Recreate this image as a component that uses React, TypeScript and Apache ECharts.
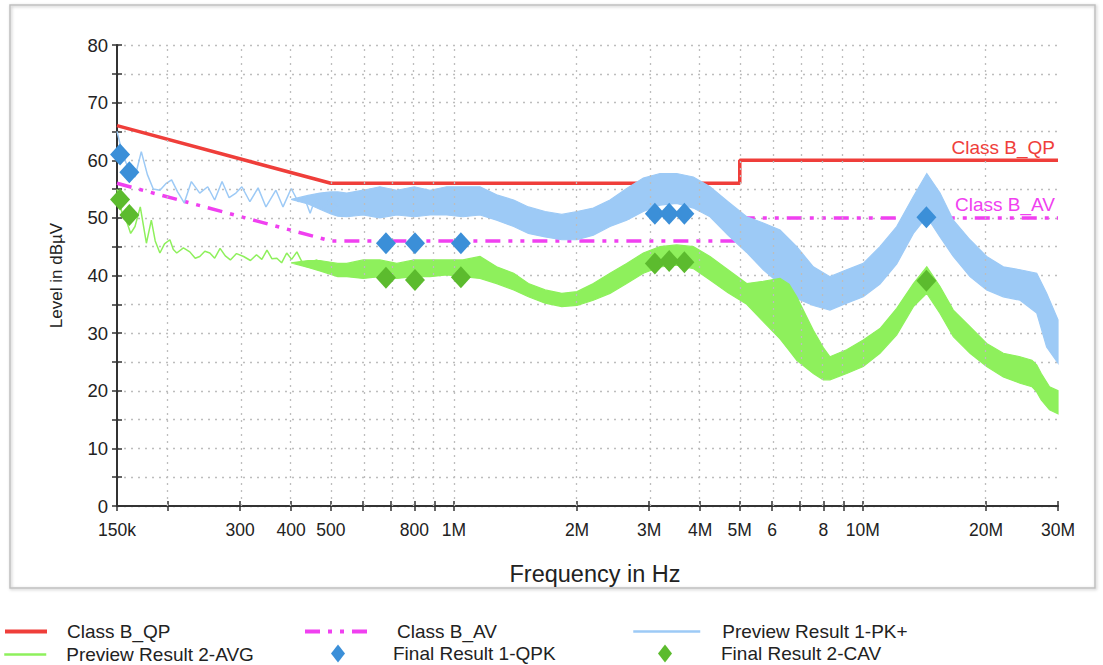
import React, { useEffect, useRef } from "react";
import * as echarts from "echarts";

// ---------- data (frequencies in MHz, levels in dBµV) ----------
const tickFreqs = [0.15, 0.2, 0.3, 0.4, 0.5, 0.6, 0.7, 0.8, 0.9, 1, 2, 3, 4, 5, 6, 7, 8, 9, 10, 20, 30];
const gridFreqs = [0.2, 0.3, 0.4, 0.5, 0.6, 0.7, 0.8, 0.9, 1, 2, 3, 4, 5, 6, 7, 8, 9, 10, 20, 30];
const labelFreqs = [0.15, 0.3, 0.4, 0.5, 0.8, 1, 2, 3, 4, 5, 6, 8, 10, 20, 30];
const labelTexts = ["150k", "300", "400", "500", "800", "1M", "2M", "3M", "4M", "5M", "6", "8", "10M", "20M", "30M"];

const qpFreq = [0.15, 0.5, 5, 5, 30];
const qpLevel = [66, 56, 56, 60, 60];
const avFreq = [0.15, 0.5, 5, 5, 5, 30];
const avLevel: (number | null)[] = [56, 46, 46, null, 50, 50];

const qpkFreq = [0.1526, 0.1608, 0.682, 0.803, 1.04, 3.1, 3.36, 3.66, 14.3];
const qpkLevel = [61.0, 57.9, 45.6, 45.6, 45.6, 50.7, 50.7, 50.7, 50.1];
const cavFreq = [0.1526, 0.1608, 0.682, 0.803, 1.04, 3.1, 3.36, 3.66, 14.3];
const cavLevel = [53.2, 50.5, 39.6, 39.2, 39.7, 42.1, 42.5, 42.3, 39.1];

// Preview PK+: low-frequency trace (thin line)
const pkLineFreq = [0.15, 0.153, 0.157, 0.161, 0.166, 0.172, 0.178, 0.184, 0.191, 0.198, 0.204, 0.211, 0.219, 0.228, 0.239, 0.25, 0.26, 0.271, 0.282, 0.293, 0.303, 0.317, 0.332, 0.347, 0.367, 0.382, 0.4, 0.416, 0.43, 0.445, 0.46, 0.478, 0.498, 0.52];
const pkLineLevel = [65.0, 62.5, 60.0, 58.0, 57.1, 61.5, 57.5, 55.0, 54.8, 56.0, 56.6, 54.5, 52.6, 56.3, 54.3, 55.4, 53.1, 56.3, 53.5, 54.3, 55.4, 52.8, 55.2, 51.9, 54.8, 51.9, 55.1, 52.8, 53.7, 50.8, 53.7, 51.4, 53.4, 52.0];
// Preview PK+: dense part, upper and lower envelope
const pkBandFreq = [0.4, 0.44, 0.47, 0.5, 0.52, 0.547, 0.6, 0.659, 0.725, 0.8, 0.874, 0.96, 1.052, 1.158, 1.272, 1.4, 1.521, 1.671, 1.835, 2.0, 2.192, 2.408, 2.645, 2.905, 3.191, 3.505, 3.85, 4.229, 4.68, 5.2, 5.708, 6.272, 6.891, 7.565, 8.309, 9.127, 10.02, 11.01, 12.1, 13.29, 14.33, 15.44, 16.64, 18.28, 20.08, 22.05, 24.23, 26.61, 28.14, 30];
const pkBandHigh = [53.2, 53.9, 54.3, 54.5, 54.5, 54.3, 54.8, 55.4, 54.8, 55.4, 54.8, 55.4, 55.4, 55.4, 54.0, 53.1, 51.9, 51.1, 50.6, 51.1, 51.7, 53.1, 55.1, 56.9, 57.7, 57.7, 57.1, 55.4, 52.8, 50.2, 49.1, 47.9, 45.0, 41.5, 39.8, 41.0, 42.1, 45.0, 48.5, 53.7, 57.7, 54.3, 49.6, 46.2, 43.3, 41.5, 41.0, 40.4, 36.9, 32.3];
const pkBandLow = [53.2, 52.4, 51.5, 50.7, 50.3, 50.2, 50.5, 50.0, 50.5, 50.2, 50.5, 50.5, 50.2, 50.5, 49.6, 48.5, 47.3, 46.7, 46.2, 46.2, 47.0, 48.5, 49.6, 51.1, 52.2, 52.5, 51.7, 50.2, 47.0, 44.0, 41.0, 38.5, 36.0, 34.8, 34.0, 35.2, 36.3, 38.5, 42.0, 47.3, 50.2, 46.7, 43.3, 39.8, 37.5, 36.3, 35.7, 33.5, 27.6, 24.8];

// Preview AVG: low-frequency trace (thin line)
const avgLineFreq = [0.15, 0.152, 0.155, 0.158, 0.162, 0.166, 0.171, 0.177, 0.182, 0.186, 0.191, 0.196, 0.202, 0.206, 0.21, 0.218, 0.226, 0.233, 0.239, 0.246, 0.253, 0.26, 0.268, 0.276, 0.284, 0.294, 0.306, 0.318, 0.329, 0.339, 0.349, 0.359, 0.369, 0.379, 0.39, 0.401, 0.413, 0.424, 0.437, 0.449, 0.462, 0.475, 0.489, 0.52];
const avgLineLevel = [55.0, 52.5, 50.5, 49.6, 47.3, 48.5, 51.9, 45.6, 49.6, 46.0, 43.9, 45.5, 46.2, 44.5, 43.9, 44.8, 44.1, 43.0, 43.3, 44.2, 43.9, 43.0, 44.7, 43.4, 42.7, 43.8, 43.3, 42.6, 43.6, 42.8, 44.4, 42.9, 43.0, 42.2, 43.9, 42.8, 44.1, 42.5, 41.5, 42.4, 42.7, 41.2, 41.0, 41.0];
// Preview AVG: dense part, upper and lower envelope
const avgBandFreq = [0.4, 0.44, 0.47, 0.5, 0.52, 0.547, 0.6, 0.659, 0.725, 0.8, 0.874, 0.96, 1.052, 1.158, 1.272, 1.4, 1.521, 1.671, 1.835, 2.0, 2.192, 2.408, 2.645, 2.905, 3.191, 3.505, 3.85, 4.229, 4.68, 5.2, 5.708, 6.272, 6.6, 6.891, 7.565, 8.0, 8.309, 9.127, 10.02, 11.01, 12.1, 13.29, 14.33, 15.44, 16.64, 18.28, 20.08, 22.05, 24.23, 25.9, 26.61, 27.3, 28.6, 30];
const avgBandHigh = [42.2, 42.6, 42.6, 42.3, 42.1, 42.1, 42.7, 42.7, 42.1, 42.7, 42.7, 42.7, 42.7, 43.3, 41.5, 40.4, 38.6, 37.5, 36.9, 37.2, 38.6, 40.4, 42.1, 43.9, 45.0, 45.3, 45.0, 43.3, 41.0, 38.6, 39.0, 39.5, 38.5, 36.3, 30.5, 27.5, 25.9, 27.1, 28.8, 30.8, 34.3, 38.6, 41.5, 38.1, 34.0, 31.1, 28.2, 26.5, 25.9, 25.3, 24.5, 23.0, 20.7, 20.0];
const avgBandLow = [42.2, 41.4, 40.8, 40.2, 39.8, 39.8, 39.5, 39.8, 39.5, 39.8, 39.8, 40.1, 39.8, 39.5, 38.6, 37.5, 36.3, 35.2, 34.6, 34.8, 35.7, 36.9, 38.6, 40.4, 41.5, 41.8, 41.2, 39.2, 37.0, 35.0, 32.0, 29.0, 27.0, 25.3, 23.0, 21.9, 21.9, 23.0, 24.2, 26.5, 29.7, 34.6, 36.9, 33.4, 29.4, 26.5, 24.2, 22.4, 21.3, 20.7, 19.8, 18.4, 16.7, 16.0];

// ---------- helpers ----------
const FONT = "'Liberation Sans', Arial, Helvetica, sans-serif";
const lg = (mhz: number) => Math.log10(mhz * 1e6);
const pts = (f: number[], v: (number | null)[]) => f.map((x, i) => [lg(x), v[i] === null ? "-" : v[i]]);

const C_QP = "#ef3e3a";
const C_AV = "#f040f0";
const C_PK = "#9dcaf6";
const C_AVG = "#8ef05c";
const C_QPK = "#3b8fd8";
const C_CAV = "#5cbb2e";
const AV_DASH = [15, 8, 4, 8, 4, 8];

function bandSeries(name: string, f: number[], hi: number[], lo: number[], color: string) {
  return {
    name,
    type: "custom",
    z: 3,
    silent: true,
    data: f.map((x, i) => [lg(x), lo[i], hi[i]]),
    encode: { x: 0, y: [1, 2] },
    renderItem: (params: any, api: any) => {
      if (params.dataIndex !== 0) return null;
      const top = f.map((x, i) => api.coord([lg(x), hi[i]]));
      const bot = f.map((x, i) => api.coord([lg(x), lo[i]])).reverse();
      return {
        type: "polygon",
        shape: { points: top.concat(bot) },
        style: { fill: color, stroke: color, lineWidth: 1.2 },
      };
    },
  };
}

export default function App() {
  const ref = useRef<HTMLDivElement>(null);

  useEffect(() => {
    if (!ref.current) return;
    const chart = echarts.init(ref.current, undefined, { renderer: "svg" });
    const xMin = lg(0.15);
    const xMax = lg(30);
    const labelFor = (v: number) => {
      for (let i = 0; i < labelFreqs.length; i++) {
        if (Math.abs(lg(labelFreqs[i]) - v) < 1e-6) return labelTexts[i];
      }
      return "";
    };
    const legendItem = (name: string, left: number, top: number, w: number, h: number, pad: number, isLine: boolean, lineStyle?: any) => {
      const l: any = {
        data: [name],
        left,
        top,
        itemWidth: w,
        itemHeight: h,
        selectedMode: false,
        orient: "vertical",
        padding: 0,
        textStyle: { fontSize: 19, color: "#222", fontFamily: FONT, padding: [0, 0, 0, pad] },
      };
      if (isLine) {
        l.itemStyle = { color: "rgba(0,0,0,0)", borderWidth: 0, opacity: 0 };
        if (lineStyle) l.lineStyle = lineStyle;
      }
      return l;
    };

    const option: any = {
      animation: false,
      backgroundColor: "#ffffff",
      textStyle: { fontFamily: FONT },
      grid: { left: 117, right: 45, top: 45, bottom: 159, containLabel: false },
      graphic: [
        {
          type: "rect",
          silent: true,
          z: -10,
          shape: { x: 10, y: 5, width: 1085, height: 583 },
          style: { fill: "none", stroke: "#bfbfbf", lineWidth: 1.5, shadowBlur: 3, shadowColor: "rgba(0,0,0,0.25)", shadowOffsetX: 1, shadowOffsetY: 1 },
        },
        {
          type: "text",
          silent: true,
          x: 1055,
          y: 147,
          style: { text: "Class B_QP", fill: C_QP, fontSize: 19, fontFamily: FONT, align: "right", verticalAlign: "middle" },
        },
        {
          type: "text",
          silent: true,
          x: 1055,
          y: 204,
          style: { text: "Class B_AV", fill: C_AV, fontSize: 19, fontFamily: FONT, align: "right", verticalAlign: "middle" },
        },
      ],
      legend: [
        legendItem("Class B_QP", 3, 622, 42, 18, 15, true, { width: 4 }),
        legendItem("Preview Result 2-AVG", 3, 645, 42, 18, 15, true, { width: 2.5 }),
        legendItem("Class B_AV", 303, 622, 67, 18, 20, true, { width: 4, type: AV_DASH }),
        legendItem("Final Result 1-QPK", 331, 644, 14, 18, 43, false),
        legendItem("Preview Result 1-PK+", 632, 622, 67, 18, 17, true, { width: 2.5 }),
        legendItem("Final Result 2-CAV", 658, 644, 14, 18, 44, false),
      ],
      xAxis: [
        {
          type: "value",
          min: xMin,
          max: xMax,
          position: "bottom",
          name: "Frequency in Hz",
          nameLocation: "middle",
          nameGap: 56,
          nameTextStyle: { fontSize: 23.5, color: "#222", fontFamily: FONT, padding: [0, 0, 0, 15] },
          axisLine: { show: true, onZero: false, lineStyle: { color: "#333", width: 2 } },
          axisTick: { show: true, length: 5, lineStyle: { color: "#333", width: 1.5 }, customValues: tickFreqs.map(lg) },
          axisLabel: {
            show: true,
            margin: 15,
            fontSize: 17.5,
            color: "#222",
            fontFamily: FONT,
            hideOverlap: false,
            customValues: labelFreqs.map(lg),
            formatter: (v: number) => labelFor(v),
          },
          splitLine: { show: false },
        },
        {
          type: "value",
          min: xMin,
          max: xMax,
          position: "bottom",
          axisLine: { show: false, onZero: false },
          axisTick: { show: true, inside: true, length: 5, lineStyle: { color: "#333", width: 1.5 }, customValues: tickFreqs.map(lg) },
          axisLabel: { show: false },
          splitLine: { show: false },
        },
      ],
      yAxis: [
        {
          type: "value",
          min: 0,
          max: 80,
          interval: 10,
          position: "left",
          name: "Level in dBµV",
          nameLocation: "middle",
          nameGap: 52,
          nameTextStyle: { fontSize: 17, color: "#222", fontFamily: FONT },
          axisLine: { show: true, onZero: false, lineStyle: { color: "#333", width: 2 } },
          axisTick: { show: true, length: 5, lineStyle: { color: "#333", width: 1.5 } },
          minorTick: { show: true, splitNumber: 2, length: 5, lineStyle: { color: "#333", width: 1.5 } },
          axisLabel: { margin: 9, fontSize: 18.5, color: "#222", fontFamily: FONT },
          splitLine: { show: true, lineStyle: { color: "#bdbdbd", type: [2, 5], width: 1.3 } },
          minorSplitLine: { show: true, lineStyle: { color: "#bdbdbd", type: [2, 5], width: 1.3 } },
        },
        {
          type: "value",
          min: 0,
          max: 80,
          interval: 10,
          position: "left",
          axisLine: { show: false, onZero: false },
          axisTick: { show: true, inside: true, length: 5, lineStyle: { color: "#333", width: 1.5 } },
          minorTick: { show: true, splitNumber: 2, length: 5, lineStyle: { color: "#333", width: 1.5 } },
          axisLabel: { show: false },
          splitLine: { show: false },
        },
      ],
      series: [
        {
          name: "grid-v",
          type: "line",
          z: 1,
          data: [],
          silent: true,
          markLine: {
            silent: true,
            symbol: ["none", "none"],
            label: { show: false },
            emphasis: { disabled: true },
            lineStyle: { color: "#bdbdbd", type: [2, 5], width: 1.3 },
            data: gridFreqs.map((f) => ({ xAxis: lg(f) })),
          },
        },
        {
          name: "Class B_QP",
          type: "line",
          z: 2,
          showSymbol: false,
          symbol: "none",
          data: pts(qpFreq, qpLevel),
          lineStyle: { color: C_QP, width: 3.5 },
          itemStyle: { color: C_QP },
        },
        {
          name: "Class B_AV",
          type: "line",
          z: 2,
          showSymbol: false,
          symbol: "none",
          connectNulls: false,
          data: pts(avFreq, avLevel),
          lineStyle: { color: C_AV, width: 3.5, type: AV_DASH },
          itemStyle: { color: C_AV },
        },
        bandSeries("pk-band", pkBandFreq, pkBandHigh, pkBandLow, C_PK),
        {
          name: "Preview Result 1-PK+",
          type: "line",
          z: 3,
          symbol: "none",
          data: pts(pkLineFreq, pkLineLevel),
          lineStyle: { color: C_PK, width: 1.5 },
          itemStyle: { color: C_PK },
        },
        bandSeries("avg-band", avgBandFreq, avgBandHigh, avgBandLow, C_AVG),
        {
          name: "Preview Result 2-AVG",
          type: "line",
          z: 3,
          symbol: "none",
          data: pts(avgLineFreq, avgLineLevel),
          lineStyle: { color: C_AVG, width: 1.5 },
          itemStyle: { color: C_AVG },
        },
        {
          name: "Final Result 1-QPK",
          type: "scatter",
          z: 5,
          symbol: "diamond",
          symbolSize: [20, 22],
          data: pts(qpkFreq, qpkLevel),
          itemStyle: { color: C_QPK, opacity: 1 },
        },
        {
          name: "Final Result 2-CAV",
          type: "scatter",
          z: 5,
          symbol: "diamond",
          symbolSize: [20, 22],
          data: pts(cavFreq, cavLevel),
          itemStyle: { color: C_CAV, opacity: 1 },
        },
      ],
    };
    chart.setOption(option);
    return () => chart.dispose();
  }, []);

  return (
    <div
      ref={ref}
      style={{ position: "fixed", left: 0, top: 0, width: 1103, height: 665, background: "#fff" }}
    />
  );
}
